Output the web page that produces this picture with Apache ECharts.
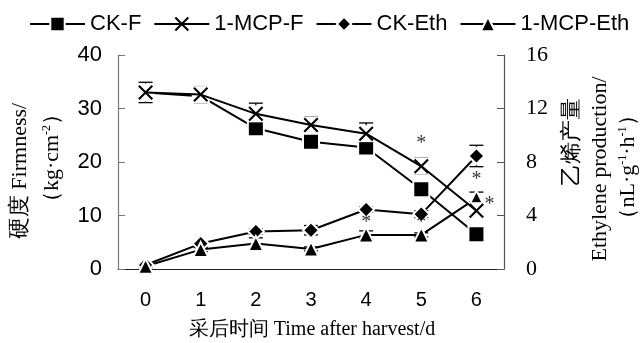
<!DOCTYPE html>
<html>
<head>
<meta charset="utf-8">
<script src="https://cdn.jsdelivr.net/npm/echarts@6/dist/echarts.min.js"></script>
<style>
  html, body { margin: 0; padding: 0; background: #fff; }
  #chart { width: 642px; height: 343px; }
</style>
</head>
<body>
<div id="chart"></div>
<script>
// 采后天数
const days = ['0', '1', '2', '3', '4', '5', '6'];
// 硬度 (kg·cm-2)
const ckFirm = [33.0, 32.3, 26.3, 23.8, 22.7, 14.9, 6.5];
const mcpFirm = [33.0, 32.6, 29.0, 26.9, 25.3, 19.2, 10.9];
const ckFirmErr = [0.5, 0.5, 0.9, 0.6, 0.5, 1.4, 1.2];
const mcpFirmErr = [1.9, 1.5, 2.0, 1.5, 2.0, 1.5, 0.8];
// 乙烯产量 (nL·g-1·h-1)
const ckEth = [0.3, 1.9, 2.8, 2.9, 4.45, 4.1, 8.45];
const mcpEth = [0.2, 1.45, 1.9, 1.5, 2.55, 2.55, 5.3];
const ckEthErr = [0.1, 0.15, 0.2, 0.35, 0.2, 0.25, 0.8];
const mcpEthErr = [0.1, 0.15, 0.43, 0.15, 0.3, 0.15, 0.45];
// 显著性标记 (左轴刻度)
const starDay = [4, 5, 5, 6, 6];
const starVal = [8.6, 23.5, 8.6, 16.6, 12.0];

const sans = "Arial, 'Liberation Sans', sans-serif";
const serif = "'Times New Roman', 'Liberation Serif', serif";
const xPath = 'path://M0,2 L2,0 L10,8 L18,0 L20,2 L12,10 L20,18 L18,20 L10,12 L2,20 L0,18 L8,10 Z';

const chart = echarts.init(document.getElementById('chart'));

// 误差线
function errSeries(vals, errs, axis) {
  return {
    type: 'custom',
    yAxisIndex: axis,
    z: 1,
    silent: true,
    data: vals.map((v, i) => [i, v - errs[i], v + errs[i]]),
    encode: { x: 0, y: [1, 2] },
    renderItem: (params, api) => {
      const lo = api.coord([api.value(0), api.value(1)]);
      const hi = api.coord([api.value(0), api.value(2)]);
      const w = 7;
      const st = { stroke: '#000', lineWidth: 1.3 };
      return {
        type: 'group',
        children: [
          { type: 'line', shape: { x1: lo[0], y1: lo[1], x2: hi[0], y2: hi[1] }, style: st },
          { type: 'line', shape: { x1: lo[0] - w, y1: lo[1], x2: lo[0] + w, y2: lo[1] }, style: st },
          { type: 'line', shape: { x1: hi[0] - w, y1: hi[1], x2: hi[0] + w, y2: hi[1] }, style: st },
        ],
      };
    },
  };
}

function lineSeries(name, data, axis, symbol, size, z, border) {
  return {
    name: name,
    type: 'line',
    yAxisIndex: axis,
    data: data,
    symbol: symbol,
    symbolSize: size,
    z: z,
    lineStyle: { color: '#000', width: 2 },
    itemStyle: { color: '#000', borderColor: '#fff', borderWidth: border },
    emphasis: { disabled: true },
  };
}

const option = {
  animation: false,
  legend: {
    data: ['CK-F', '1-MCP-F', 'CK-Eth', '1-MCP-Eth'],
    left: 24,
    top: 8,
    itemWidth: 55,
    itemHeight: 18,
    itemGap: 12,
    textStyle: { fontFamily: sans, fontSize: 22, color: '#000' },
  },
  grid: { left: 118, right: 138, top: 55, bottom: 74 },
  xAxis: {
    type: 'category',
    data: days,
    boundaryGap: true,
    axisLine: { lineStyle: { color: '#222', width: 1.2 } },
    axisTick: { inside: true, length: 7, lineStyle: { color: '#444' } },
    axisLabel: { fontFamily: sans, fontSize: 20, color: '#000', margin: 21 },
  },
  yAxis: [
    {
      type: 'value',
      min: 0,
      max: 40,
      interval: 10,
      axisLine: { show: true, lineStyle: { color: '#777', width: 1.2 } },
      axisTick: { show: true, inside: true, length: 7, lineStyle: { color: '#777' } },
      axisLabel: { fontFamily: sans, fontSize: 22, color: '#000', margin: 16 },
      splitLine: { show: false },
    },
    {
      type: 'value',
      min: 0,
      max: 16,
      interval: 4,
      position: 'right',
      axisLine: { show: true, lineStyle: { color: '#555', width: 1.2 } },
      axisTick: { show: true, inside: true, length: 7, lineStyle: { color: '#555' } },
      axisLabel: { fontFamily: serif, fontSize: 22, color: '#000', margin: 22 },
      splitLine: { show: false },
    },
  ],
  series: [
    errSeries(ckFirm, ckFirmErr, 0),
    errSeries(mcpFirm, mcpFirmErr, 0),
    errSeries(ckEth, ckEthErr, 1),
    errSeries(mcpEth, mcpEthErr, 1),
    lineSeries('CK-F', ckFirm, 0, 'rect', 16, 2, 2),
    // X 标记的白底
    {
      type: 'scatter',
      yAxisIndex: 0,
      data: mcpFirm,
      symbol: 'rect',
      symbolSize: 17,
      z: 3,
      silent: true,
      itemStyle: { color: '#fff', opacity: 1 },
    },
    lineSeries('1-MCP-F', mcpFirm, 0, xPath, 15, 4, 0),
    lineSeries('CK-Eth', ckEth, 1, 'diamond', 16, 2, 2),
    lineSeries('1-MCP-Eth', mcpEth, 1, 'triangle', 15, 2, 2),
    {
      type: 'scatter',
      yAxisIndex: 0,
      symbol: 'circle',
      symbolSize: 1,
      z: 5,
      silent: true,
      itemStyle: { color: 'rgba(0,0,0,0)' },
      data: starDay.map((d, i) => ({
        value: [d, starVal[i]],
        label: i === 4 ? { offset: [13, 0] } : {},
      })),
      label: {
        show: true,
        position: 'inside',
        formatter: '*',
        fontFamily: serif,
        fontSize: 20,
        color: '#000',
      },
    },
  ],
  graphic: [
    {
      type: 'text', x: 20, y: 171, rotation: Math.PI / 2,
      style: { text: '硬度 Firmness/', align: 'center', verticalAlign: 'middle', fontFamily: serif, fontSize: 22, fill: '#000' },
    },
    {
      type: 'text', x: 52, y: 158, rotation: Math.PI / 2,
      style: {
        text: '（kg·cm{sup|-2}）', align: 'center', verticalAlign: 'middle', fontFamily: serif, fontSize: 22, fill: '#000',
        rich: { sup: { fontFamily: serif, fontSize: 12, verticalAlign: 'top', fill: '#000' } },
      },
    },
    {
      type: 'text', x: 572, y: 142, rotation: Math.PI / 2,
      style: { text: '乙烯产量', align: 'center', verticalAlign: 'middle', fontFamily: serif, fontSize: 22, fill: '#000' },
    },
    {
      type: 'text', x: 600, y: 169, rotation: Math.PI / 2,
      style: { text: 'Ethylene production/', align: 'center', verticalAlign: 'middle', fontFamily: serif, fontSize: 22, fill: '#000' },
    },
    {
      type: 'text', x: 628, y: 167, rotation: Math.PI / 2,
      style: {
        text: '（nL·g{sup|-1}·h{sup|-1}）', align: 'center', verticalAlign: 'middle', fontFamily: serif, fontSize: 22, fill: '#000',
        rich: { sup: { fontFamily: serif, fontSize: 12, verticalAlign: 'top', fill: '#000' } },
      },
    },
    {
      type: 'text', x: 312, y: 330,
      style: { text: '采后时间 Time after harvest/d', align: 'center', verticalAlign: 'middle', fontFamily: serif, fontSize: 20, fill: '#000' },
    },
  ],
};

chart.setOption(option);
</script>
</body>
</html>
